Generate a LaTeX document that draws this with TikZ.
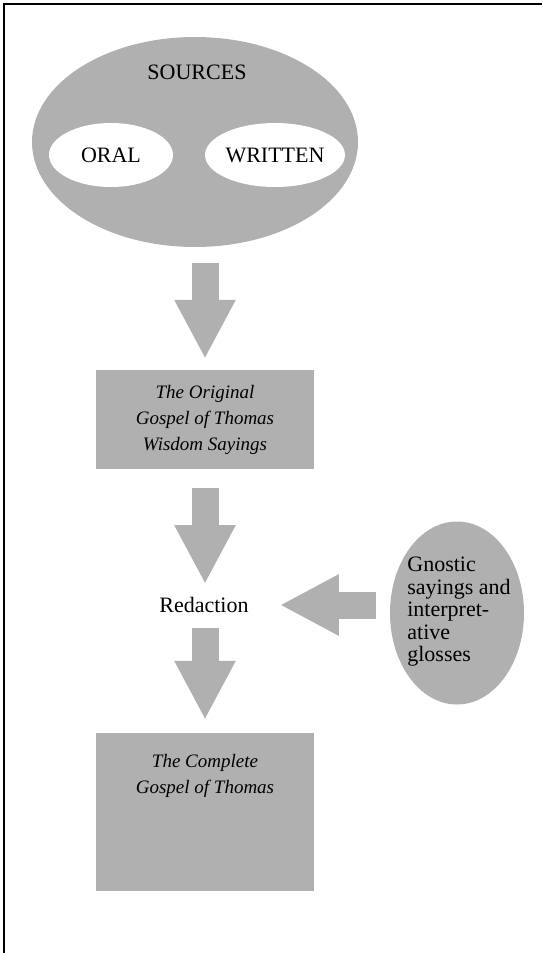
\documentclass[tikz,border=0pt]{standalone}
\usepackage{fontspec}
\setmainfont{Liberation Serif}
\usetikzlibrary{shapes.geometric,arrows.meta}
\definecolor{srcgray}{RGB}{176,176,176}

\begin{document}
\begin{tikzpicture}[x=1pt,y=-1pt,
    grayoval/.style={ellipse,fill=srcgray,inner sep=0pt},
    whiteoval/.style={ellipse,fill=white,inner sep=0pt,minimum width=124pt,minimum height=64pt},
    graybox/.style={rectangle,fill=srcgray,inner sep=0pt,minimum width=218pt},
    roman/.style={font=\fontsize{22}{22.5}\selectfont,inner sep=0pt},
    slanted/.style={font=\fontsize{19}{26}\selectfont\itshape,align=center,inner sep=0pt},
    blockarrow/.style={draw=srcgray,line width=27pt,-{Triangle[length=59pt,width=57pt]}}]
        \useasboundingbox (0,0) rectangle (542,953);
        \draw[line width=2pt] (542,4) -- (4,4) -- (4,953);
        % sources
        \node[grayoval,minimum width=326pt,minimum height=210pt] (src) at (195,142) {};
        \node[roman] (srclbl) at (197,72) {SOURCES};
        \node[whiteoval,roman] (oral) at (111,155) {ORAL};
        \node[whiteoval,roman] (written) at (275,155) {WRITTEN};
        % gospel boxes
        \node[graybox,minimum height=99pt,slanted] (orig) at (205,419.5) {The Original\\Gospel of Thomas\\Wisdom Sayings};
        \node[roman] (red) at (204,605) {Redaction};
        \node[graybox,minimum height=158pt] (full) at (205,812) {};
        \node[slanted] (fulltxt) at (205,776) {The Complete\\Gospel of Thomas};
        % gnostic input
        \node[grayoval,minimum width=134pt,minimum height=183pt] (gno) at (457,613) {};
        \node[roman,align=left] (gnotxt) at (459,612) {Gnostic\\sayings and\\interpret-\\ative\\glosses};
        % arrows
        \draw[blockarrow,shorten <=16pt,shorten >=11pt] (src.south -| orig.north) -- (orig.north);
        \draw[blockarrow,shorten <=19pt,shorten >=13pt] (orig.south) -- (red.north -| orig.south);
        \draw[blockarrow,shorten <=15pt,shorten >=13pt] (red.south -| full.north) -- (full.north);
        \draw[blockarrow,shorten <=14pt,shorten >=31pt] (red.east -| gno.west) -- (red.east);
\end{tikzpicture}
\end{document}
